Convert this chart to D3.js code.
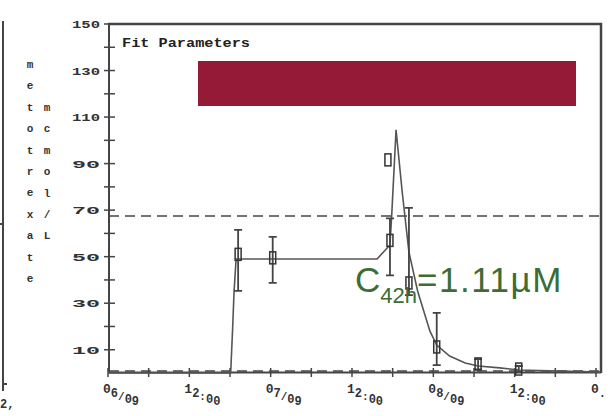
<!DOCTYPE html>
<html>
<head>
<meta charset="utf-8">
<script src="https://cdn.jsdelivr.net/npm/d3@7"></script>
<style>
  body { margin: 0; background: #fff; }
  svg { display: block; }
</style>
</head>
<body>
<div id="chart"></div>
<script>
// data (hours after 06/09 00:00)
const pointHours = [19.2, 24.3, 41.6, 41.3, 44.4, 48.5, 54.6, 60.6];
const pointValues = [51, 49.5, 57, 91.6, 38.7, 11.2, 3.9, 1.7];
const errLow = [35.3, 38.7, 42, null, 33.5, 3.4, 1.5, 0.5];
const errHigh = [61.5, 58.5, 66.5, null, 71, 25.8, 6, 3];

const fitHours = [0, 18.1, 18.4, 18.6, 18.9, 39.7, 41.6, 41.9, 42.5, 43.4, 44.4, 45.7, 47.5, 48.5, 50.4, 52.7, 54.6, 57.8, 60.6, 66.7, 72.6];
const fitValues = [0, 0, 20, 35, 49, 49, 55, 70, 104.5, 78, 52, 35, 18, 12, 7.3, 4.3, 3, 2.2, 1.3, 0.8, 0.4];

const threshold = 67.5;
const yTickLabels = [10, 30, 50, 70, 90, 110, 130, 150];
// x labels, one piece per glyph
const xLabels = [["0", "6", "/", "0", "9"], ["1", "2", ":", "0", "0"], ["0", "7", "/", "0", "9"],
                 ["1", "2", ":", "0", "0"], ["0", "8", "/", "0", "9"], ["1", "2", ":", "0", "0"], ["0", "."]];
const yLetters1 = ["m", "e", "t", "o", "t", "r", "e", "x", "a", "t", "e"];
const yLetters2 = ["m", "c", "m", "o", "l", "/", "L"];

const W = 608, H = 416;
const svg = d3.select("#chart").append("svg").attr("width", W).attr("height", H);

const t0 = new Date(2009, 8, 6, 0);
const hour = h => new Date(t0.getTime() + h * 3600e3);

const x = d3.scaleTime().domain([t0, hour(72)]).range([108, 596]);
const y = d3.scaleLinear().domain([0, 150]).range([373, 24]);

const ink = "#444";
const mono = "'Liberation Mono', 'DejaVu Sans Mono', monospace";

// stray frame at left edge
svg.append("path").attr("d", "M3,21 V391 M0,224 H3 M3,384 H7")
  .attr("stroke", ink).attr("stroke-width", 2).attr("fill", "none");
svg.append("text").attr("x", 0).attr("y", 408).attr("font-family", mono)
  .attr("font-weight", "bold").attr("font-size", 12).attr("fill", "#333").text("2,");

// frame top/right
svg.append("path").attr("d", `M${x.range()[0]},${y(150)} H601 V${y(0)}`)
  .attr("stroke", ink).attr("stroke-width", 2.5).attr("fill", "none");

// y axis
svg.append("line").attr("x1", 109).attr("x2", 109).attr("y1", y(150)).attr("y2", y(0))
  .attr("stroke", ink).attr("stroke-width", 2);
svg.selectAll(".yt").data(d3.range(10, 151, 10)).enter().append("line")
  .attr("x1", 104).attr("x2", 115).attr("y1", d => y(d)).attr("y2", d => y(d))
  .attr("stroke", ink).attr("stroke-width", 1.5);
svg.selectAll(".yl").data(yTickLabels).enter().append("text")
  .attr("x", 72).attr("y", d => y(d) + 4)
  .attr("textLength", 28).attr("lengthAdjust", "spacingAndGlyphs")
  .attr("font-family", mono).attr("font-weight", "bold").attr("font-size", 11)
  .attr("fill", "#333").text(d => d);

// x axis
svg.append("line").attr("x1", 108).attr("x2", 601).attr("y1", 372.5).attr("y2", 372.5)
  .attr("stroke", ink).attr("stroke-width", 2);
const xTicks = d3.range(0, 73, 6).map(hour);
svg.selectAll(".xt").data(xTicks).enter().append("line")
  .attr("x1", d => x(d)).attr("x2", d => x(d)).attr("y1", 368).attr("y2", 377)
  .attr("stroke", ink).attr("stroke-width", 1.5);
const xl = svg.selectAll(".xl").data(xLabels).enter().append("text")
  .attr("x", (d, i) => x(hour(i * 12)) - 5).attr("y", 393)
  .attr("font-family", mono).attr("font-weight", "bold").attr("font-size", 12).attr("fill", "#333");
xl.each(function(d) {
  const t = d3.select(this);
  const dys = [0, 4, 3, 3, 2];
  const sizes = [13, 12, 11, 12, 12];
  d.forEach((c, k) => {
    t.append("tspan").attr("dy", dys[k]).attr("font-size", sizes[k]).text(c);
  });
});

// y axis label letters
svg.selectAll(".l1").data(yLetters1).enter().append("text")
  .attr("x", 30).attr("y", (d, i) => 68 + i * 21.4).attr("text-anchor", "middle")
  .attr("font-family", mono).attr("font-weight", "bold").attr("font-size", 11)
  .attr("fill", "#333").text(d => d);
svg.selectAll(".l2").data(yLetters2).enter().append("text")
  .attr("x", 47).attr("y", (d, i) => 111 + i * 21.4).attr("text-anchor", "middle")
  .attr("font-family", mono).attr("font-weight", "bold").attr("font-size", 11)
  .attr("fill", "#333").text(d => d);

// dashed threshold and zero line
svg.append("line").attr("x1", 109).attr("x2", 601).attr("y1", y(threshold)).attr("y2", y(threshold))
  .attr("stroke", ink).attr("stroke-width", 1.5).attr("stroke-dasharray", "10,6");
svg.append("line").attr("x1", 109).attr("x2", 601).attr("y1", 371).attr("y2", 371)
  .attr("stroke", ink).attr("stroke-width", 1.5).attr("stroke-dasharray", "10,6");

// title + red box
svg.append("text").attr("x", 122).attr("y", 47)
  .attr("textLength", 128).attr("lengthAdjust", "spacingAndGlyphs")
  .attr("font-family", mono).attr("font-weight", "bold").attr("font-size", 12)
  .attr("fill", "#222").text("Fit Parameters");
svg.append("rect").attr("x", 198).attr("y", 61).attr("width", 378).attr("height", 45)
  .attr("fill", "#951a37");

// fit curve
const fit = fitHours.map((h, i) => [hour(h), fitValues[i]]);
svg.append("path").datum(fit)
  .attr("d", d3.line().x(d => x(d[0])).y(d => y(d[1])))
  .attr("fill", "none").attr("stroke", "#555").attr("stroke-width", 1.6);

// error bars and boxes
const pts = pointHours.map((h, i) => ({ t: hour(h), v: pointValues[i], lo: errLow[i], hi: errHigh[i] }));
const eb = pts.filter(d => d.lo !== null);
svg.selectAll(".eb").data(eb).enter().append("path")
  .attr("d", d => {
    const cx = x(d.t), a = y(d.hi), b = y(d.lo);
    return `M${cx - 4},${a} H${cx + 4} M${cx},${a} V${b} M${cx - 4},${b} H${cx + 4}`;
  })
  .attr("stroke", ink).attr("stroke-width", 1.8).attr("fill", "none");
svg.selectAll(".pt").data(pts).enter().append("rect")
  .attr("x", d => x(d.t) - 3).attr("y", d => y(d.v) - 6)
  .attr("width", 6).attr("height", 12)
  .attr("fill", "none").attr("stroke", "#333").attr("stroke-width", 1.5);

// green annotation
const g = svg.append("text").attr("x", 355).attr("y", 292)
  .attr("font-family", "'Liberation Sans', Arial, sans-serif").attr("font-size", 35)
  .attr("fill", "#3b6d34");
g.append("tspan").text("C");
g.append("tspan").attr("font-size", 22).attr("dy", 11).text("42h");
g.append("tspan").attr("dy", -11).attr("letter-spacing", 1.5).text("=1.11µM");
</script>
</body>
</html>
